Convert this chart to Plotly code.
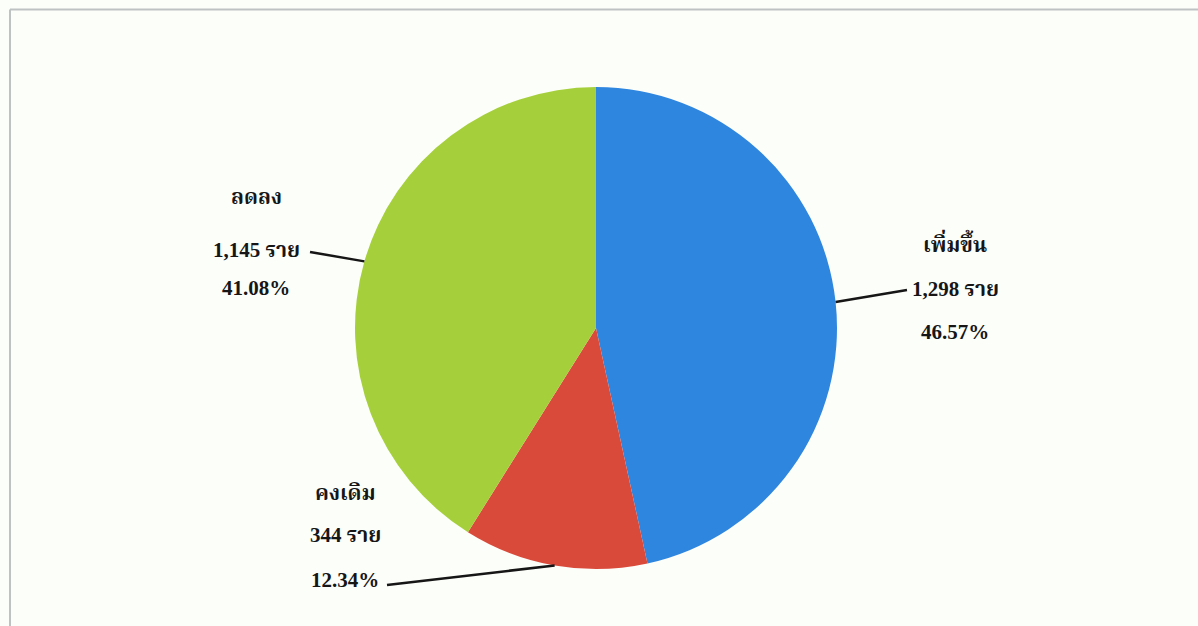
import math
import plotly.graph_objects as go

W, H = 1198, 626

# data
categories = ["เพิ่มขึ้น", "คงเดิม", "ลดลง"]
counts = [1298, 344, 1145]
unit = "ราย"
colors = ["#2F86DF", "#DA4A3A", "#A6D03B"]

# pie placement (pixels)
CX, CY, R = 596, 328, 241

# label block per slice: centre x, y of each text row, leader end
label_layout = [
    dict(x=955, ys=[243, 289, 332], end=(907, 290)),
    dict(x=345, ys=[493, 535, 580], end=(387, 585)),
    dict(x=256, ys=[197, 250, 288], end=(310, 252)),
]


def px(x):
    return x / W


def py(y):
    return 1 - y / H


total = sum(counts)
pcts = [c / total * 100 for c in counts]

fig = go.Figure()
fig.add_trace(go.Pie(
    values=counts,
    labels=categories,
    sort=False,
    direction="clockwise",
    rotation=0,
    marker=dict(colors=colors, line=dict(width=0)),
    textinfo="none",
    hoverinfo="label+value+percent",
    showlegend=False,
    domain=dict(x=[px(CX - R), px(CX + R)], y=[py(CY + R), py(CY - R)]),
))

font = dict(family="Liberation Serif, Noto Serif Thai, Noto Sans Thai, serif",
            size=21, color="#161616")

annotations = []
shapes = []
cum = 0.0
for name, cnt, pct, lay in zip(categories, counts, pcts, label_layout):
    mid = (cum + cnt / 2) / total * 2 * math.pi
    cum += cnt
    ex = CX + R * math.sin(mid)
    ey = CY - R * math.cos(mid)
    shapes.append(dict(type="line", xref="paper", yref="paper",
                       x0=px(ex), y0=py(ey),
                       x1=px(lay["end"][0]), y1=py(lay["end"][1]),
                       line=dict(color="#161616", width=2.5)))
    rows = [name, f"{cnt:,} {unit}", f"{pct:.2f}%"]
    for txt, y in zip(rows, lay["ys"]):
        annotations.append(dict(text=f"<b>{txt}</b>", x=px(lay["x"]), y=py(y),
                                xref="paper", yref="paper",
                                xanchor="center", yanchor="middle",
                                showarrow=False, font=font))

# light frame along top and left edges
shapes.append(dict(type="line", xref="paper", yref="paper",
                   x0=px(10), y0=py(9.5), x1=1, y1=py(9.5),
                   line=dict(color="#BEC2C2", width=2)))
shapes.append(dict(type="line", xref="paper", yref="paper",
                   x0=px(10), y0=py(9.5), x1=px(10), y1=0,
                   line=dict(color="#BEC2C2", width=2)))

fig.update_layout(
    width=W, height=H,
    margin=dict(l=0, r=0, t=0, b=0),
    paper_bgcolor="#FCFEFA",
    plot_bgcolor="#FCFEFA",
    annotations=annotations,
    shapes=shapes,
)

fig.write_html("out.html", config={"displayModeBar": False})
